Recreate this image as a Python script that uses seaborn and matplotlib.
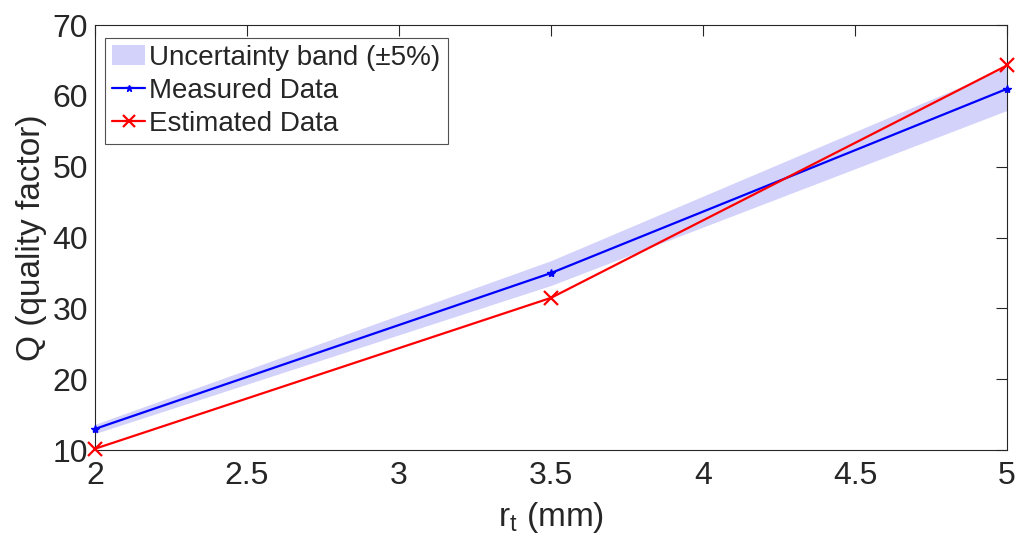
import numpy as np
import pandas as pd
import matplotlib
matplotlib.use("Agg")
import matplotlib.pyplot as plt
import seaborn as sns
from matplotlib.patches import Patch
from matplotlib.lines import Line2D

# Data
r_t = [2.0, 3.5, 5.0]
q_measured = [13.0, 35.0, 61.0]
q_estimated = [10.2, 31.5, 64.3]
band_frac = 0.05

BAND = "#D2D2FA"
sns.set_style("white")
plt.rcParams["font.family"] = ["Liberation Sans", "DejaVu Sans"]

fig = plt.figure(figsize=(10.27, 5.45), dpi=100)
ax = fig.add_axes([0.0925, 0.174, 0.888, 0.780])

meas = np.array(q_measured)
ax.fill_between(r_t, meas * (1 - band_frac), meas * (1 + band_frac),
                color=BAND, linewidth=0, zorder=1)

df = pd.DataFrame({"r_t": r_t, "measured": q_measured, "estimated": q_estimated})
sns.lineplot(data=df, x="r_t", y="measured", ax=ax, color="#0000FF", lw=1.6,
             marker="*", markersize=6, markeredgewidth=1, markeredgecolor="#0000FF",
             clip_on=False, zorder=3)
sns.lineplot(data=df, x="r_t", y="estimated", ax=ax, color="#FF0000", lw=1.6,
             marker="x", markersize=10, markeredgewidth=1.6, markeredgecolor="#FF0000",
             clip_on=False, zorder=3)

ax.set_xlim(2, 5)
ax.set_ylim(10, 70)
ax.set_xticks([2, 2.5, 3, 3.5, 4, 4.5, 5])
ax.set_xticklabels(["2", "2.5", "3", "3.5", "4", "4.5", "5"])
ax.set_yticks(range(10, 71, 10))
ax.tick_params(direction="in", length=8, width=0.8, labelsize=23,
               top=True, right=True, colors="#262626")
ax.tick_params(axis="x", pad=8)
ax.tick_params(axis="y", pad=5)
for s in ax.spines.values():
    s.set_color("#262626")
    s.set_linewidth(0.8)

ax.set_xlabel(r"r$_\mathregular{t}$ (mm)", fontsize=24, color="#262626", labelpad=6)
ax.set_ylabel("Q (quality factor)", fontsize=24, color="#262626", labelpad=4)

handles = [
    Patch(facecolor=BAND, edgecolor="none", label="Uncertainty band (\u00b15%)"),
    Line2D([], [], color="#0000FF", lw=1.6, marker="*", markersize=5, label="Measured Data"),
    Line2D([], [], color="#FF0000", lw=1.6, marker="x", markersize=9, markeredgewidth=1.6,
           label="Estimated Data"),
]
leg = ax.legend(handles=handles, loc="upper left", bbox_to_anchor=(0.011, 0.97),
                fontsize=20, frameon=True, fancybox=False, borderpad=0.25,
                handlelength=1.2, handletextpad=0.15, labelspacing=0.25, borderaxespad=0)
leg.get_frame().set_edgecolor("#262626")
leg.get_frame().set_linewidth(0.8)

fig.savefig("out.png", dpi=100)
